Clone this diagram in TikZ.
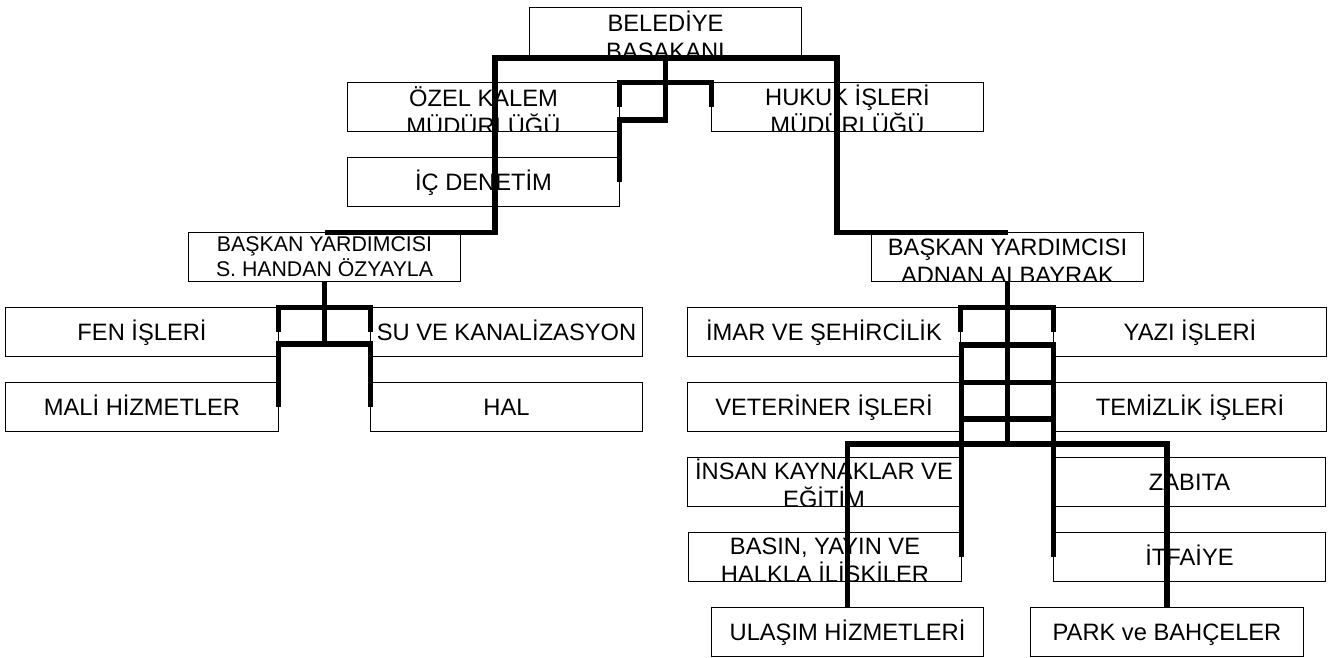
\documentclass[tikz,border=0pt]{standalone}
\usepackage{fontspec}
\setmainfont{Liberation Sans}
\newcommand\fsbig{\fontsize{23.7pt}{28pt}\selectfont}
\newcommand\fssmall{\fontsize{21.3pt}{25pt}\selectfont}
% clipped two-line text inside a box: #1 node, #2 first baseline offset, #3 line 1, #4 line 2
\newcommand\boxlines[4]{%
  \begin{scope}
    \clip (#1.north west) rectangle (#1.south east);
    \node[txt] (#1-l1) at ([yshift=-#2]#1.north) {#3};
    \node[txt] (#1-l2) at ([yshift=-#2-28pt]#1.north) {#4};
  \end{scope}}
\begin{document}
\begin{tikzpicture}[x=1pt,y=-1pt,
  box/.style={draw, line width=1.4pt, minimum width=272.5pt, minimum height=49.5pt,
              inner sep=0pt, outer sep=0pt, font=\fsbig},
  one/.style={box, text height=17.5pt, text depth=0pt},
  txt/.style={anchor=base, font=\fsbig, inner sep=0pt, outer sep=0pt},
  conn/.style={line width=5.1pt, line join=miter}]
\fill[white] (0,0) rectangle (1333,657);
\useasboundingbox (0,0) rectangle (1333,657);

% boxes
\node[box] (bel)   at (665.5,31.95) {};
\node[box] (ozel)  at (483.5,106.95) {};
\node[box] (hukuk) at (847.5,106.95) {};
\node[one] (ic)    at (483.5,181.95) {İÇ DENETİM};
\node[box, font=\fssmall, align=center] (handan) at (324.5,256.95) {BAŞKAN YARDIMCISI\\S. HANDAN ÖZYAYLA};
\node[box] (adnan) at (1007.5,256.95) {};
\node[one] (fen)   at (142,331.95) {FEN İŞLERİ};
\node[one] (su)    at (506.5,331.95) {SU VE KANALİZASYON};
\node[one] (mali)  at (142,406.95) {MALİ HİZMETLER};
\node[one] (hal)   at (506.5,406.95) {HAL};
\node[one] (imar)  at (824,331.95) {İMAR VE ŞEHİRCİLİK};
\node[one] (yazi)  at (1190,331.95) {YAZI İŞLERİ};
\node[one] (vet)   at (824,406.95) {VETERİNER İŞLERİ};
\node[one] (tem)   at (1190,406.95) {TEMİZLİK İŞLERİ};
\node[box] (insan) at (824,481.95) {};
\node[one] (zab)   at (1189.5,481.95) {ZABITA};
\node[box] (basin) at (825,556.95) {};
\node[one] (itf)   at (1189.5,556.95) {İTFAİYE};
\node[one] (ulas)  at (847.5,631.95) {ULAŞIM HİZMETLERİ};
\node[one] (park)  at (1167,631.95) {PARK ve BAHÇELER};

% clipped two-line texts
\boxlines{bel}{24.5pt}{BELEDİYE}{BAŞAKANI}
\boxlines{ozel}{23.8pt}{ÖZEL KALEM}{MÜDÜRLÜĞÜ}
\boxlines{hukuk}{23.1pt}{HUKUK İŞLERİ}{MÜDÜRLÜĞÜ}
\boxlines{adnan}{22.8pt}{BAŞKAN YARDIMCISI}{ADNAN ALBAYRAK}
\boxlines{insan}{22.1pt}{İNSAN KAYNAKLAR VE}{EĞİTİM}
\boxlines{basin}{21.8pt}{BASIN, YAYIN VE}{HALKLA İLİŞKİLER}

% bus coordinates
\coordinate (tl) at (495,58);
\coordinate (tr) at (837,58);
\coordinate (bk) at (665.5,120);
\coordinate (lb) at (324.5,344);
\coordinate (rb2) at (1007.5,345);
\coordinate (rb4) at (1007.5,419);
\coordinate (rb5) at (1007.5,444);

% connectors
\draw[conn] (handan.north) -| (tl) -- (tr) |- (adnan.north);
\draw[conn] (bel.south |- tl) -- (bk) -| (ic.east);
\draw[conn] (ozel.east) -- (ozel.north east) -- (hukuk.north west) -- (hukuk.west);

\draw[conn] (handan.south) -- (lb);
\draw[conn] (fen.east) -- (fen.north east) -- (su.north west) -- (su.west);
\draw[conn] (mali.east) -- (mali.east |- lb) -- (hal.west |- lb) -- (hal.west);

\draw[conn] (adnan.south) -- (rb5);
\draw[conn] (imar.east) -- (imar.north east) -- (yazi.north west) -- (yazi.west);
\draw[conn] (basin.east) -- (basin.east |- rb2) -- (itf.west |- rb2) -- (itf.west);
\draw[conn] (basin.east |- vet.north) -- (itf.west |- tem.north);
\draw[conn] (basin.east |- rb4) -- (itf.west |- rb4);
\draw[conn] (ulas.north) -- (ulas.north |- rb5) -- (park.north |- rb5) -- (park.north);
\end{tikzpicture}
\end{document}
